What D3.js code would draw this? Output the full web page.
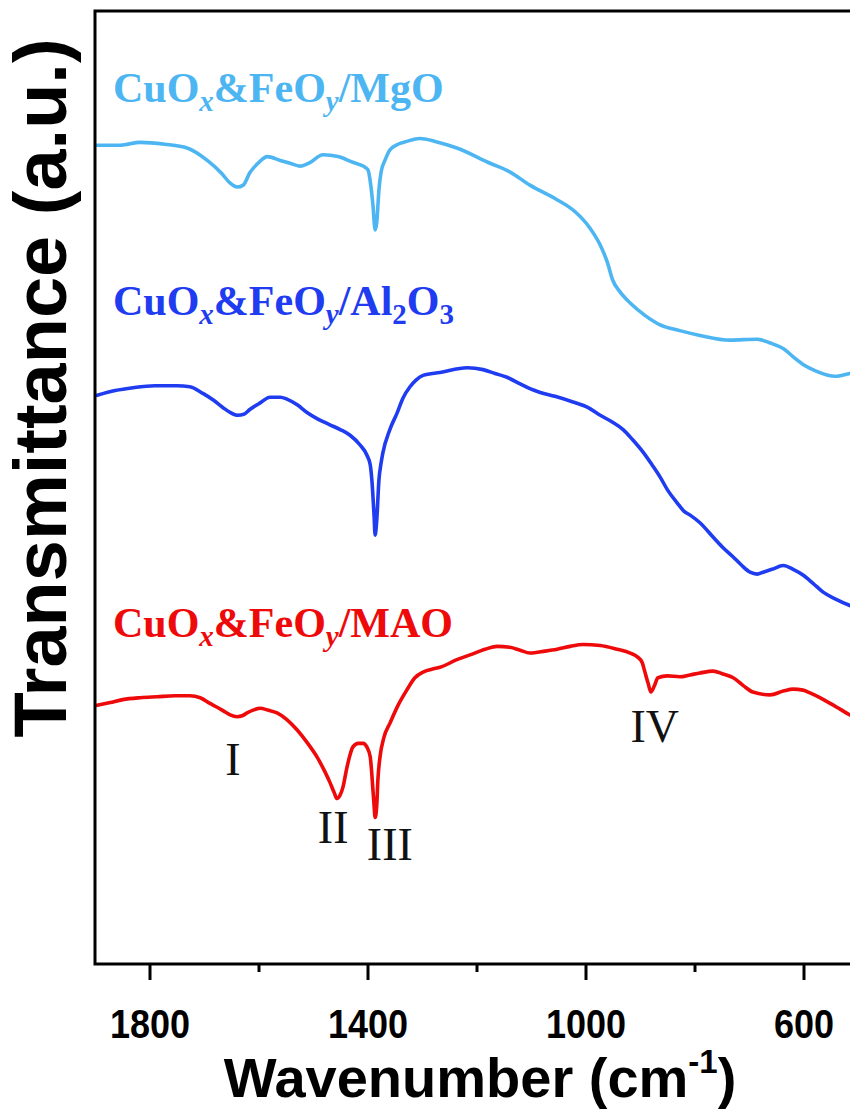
<!DOCTYPE html>
<html><head><meta charset="utf-8">
<script src="https://cdn.jsdelivr.net/npm/d3@7"></script>
<style>body{margin:0;background:#fff}</style>
</head><body><svg id="c" width="850" height="1111"></svg>
<script>
// ---- data (wavenumber cm-1, transmittance a.u.) ----
const mgoWn = [1896,1854,1817,1772,1731,1694,1667,1652,1639,1628,1616,1601,1584,1560,1542,1524,1505,1482,1454,1427,1408,1399,1394,1390,1386,1383,1379,1375,1368,1359,1344,1328,1304,1276,1236,1175,1139,1102,1056,1019,992,973,960,950,937,918,891,863,827,790,735,685,661,634,616,597,579,542,515,478];
const mgoT  = [86.1,86.1,86.4,86.2,85.8,84.5,83.1,82.1,81.7,81.9,83.2,84.2,84.9,84.5,84.2,83.9,84.3,85.1,84.9,84.3,83.9,83.5,81.9,79.8,77.2,78.0,81.4,83.3,84.5,85.6,86.2,86.5,86.8,86.5,85.8,84.2,83.3,81.9,80.5,79.1,77.4,75.6,73.8,71.9,70.7,69.5,68.2,67.2,66.6,66.1,65.6,65.7,65.3,64.6,63.7,62.9,62.4,61.8,62.1,62.4];

const al2o3Wn = [1896,1863,1830,1790,1750,1726,1702,1683,1665,1652,1638,1627,1616,1597,1579,1560,1548,1529,1511,1491,1469,1450,1432,1414,1401,1395,1392,1388,1386,1383,1379,1375,1372,1359,1346,1335,1322,1311,1298,1267,1217,1188,1166,1144,1120,1102,1083,1056,1023,995,973,951,931,913,894,878,863,849,832,819,808,790,766,748,729,713,698,685,674,658,637,619,601,582,564,542,515,478];
const al2o3T  = [59.8,60.3,60.6,60.8,60.8,60.7,60.0,59.3,58.5,58.0,57.7,57.8,58.3,59.0,59.6,59.6,59.4,58.8,58.0,57.3,56.7,56.2,55.6,54.6,53.5,52.5,50.9,47.2,45.1,46.7,50.9,52.7,53.7,56.2,57.9,59.5,60.7,61.4,61.9,62.2,62.7,62.5,62.1,61.7,61.0,60.5,60.1,59.7,59.1,58.5,57.7,57.0,56.2,55.1,53.8,52.5,51.2,49.8,48.5,47.6,47.2,46.4,44.9,43.8,42.8,41.9,41.2,41.0,41.2,41.5,41.9,41.5,40.9,40.0,39.1,38.4,37.7,37.0];

const maoWn = [1896,1872,1849,1817,1786,1753,1726,1707,1689,1676,1661,1652,1639,1630,1621,1610,1597,1583,1566,1548,1529,1511,1493,1478,1469,1461,1456,1450,1445,1438,1432,1427,1417,1408,1401,1395,1392,1388,1386,1383,1381,1377,1370,1359,1344,1328,1313,1298,1282,1267,1236,1212,1184,1162,1139,1120,1102,1074,1052,1028,1005,973,942,918,905,896,891,885,880,874,867,850,827,808,790,766,748,729,711,693,661,637,619,601,588,570,551,533,515,478];
const maoT  = [27.2,27.5,27.8,28.0,28.1,28.2,28.2,28.0,27.4,27.0,26.5,26.2,26.0,26.1,26.4,26.7,26.9,26.7,26.4,25.7,24.6,23.3,21.8,20.2,19.1,18.0,17.4,17.8,18.6,20.6,22.0,22.8,23.2,23.2,22.8,21.8,19.9,16.7,15.4,16.7,19.3,21.8,23.8,25.3,27.2,28.8,30.1,30.7,31.0,31.2,32.0,32.5,33.1,33.4,33.3,33.0,32.7,32.9,33.1,33.4,33.6,33.5,33.1,32.7,32.3,31.7,30.7,29.5,28.6,29.2,30.1,30.3,30.2,30.4,30.6,30.8,30.5,30.1,29.3,28.6,28.3,28.7,28.9,28.8,28.5,28.0,27.4,26.8,26.2,25.7];

const seriesNames = ["MgO","Al2O3","MAO"];
const seriesColors = ["#4db6f2","#1f3cf0","#ee0a0a"];
const labelPosWn = [1867,1867,1867];
const labelPosT  = [90.6,68.2,34.4];

const majorTicks = [1800,1400,1000,600];
const minorTicks = [1600,1200,800];

const peakLabels = ["I","II","III","IV"];
const peakWn = [1647,1463,1359,873];
const peakT  = [19.9,12.7,10.9,23.3];

// ---- layout ----
const svg = d3.select("#c");
const mLeft = 95, mTop = 11, mBottom = 964;
const x = d3.scaleLinear().domain([1900,400]).range([mLeft, mLeft + 1500*0.545]);
const y = d3.scaleLinear().domain([0,100]).range([mBottom, 13]);

svg.append("defs").append("clipPath").attr("id","clip")
  .append("rect").attr("x",mLeft).attr("y",mTop).attr("width",x(400)-mLeft).attr("height",mBottom-mTop);

const line = d3.line().x(d=>x(d[0])).y(d=>y(d[1])).curve(d3.curveMonotoneX);
const series = [
  d3.zip(mgoWn, mgoT),
  d3.zip(al2o3Wn, al2o3T),
  d3.zip(maoWn, maoT)
];
const plot = svg.append("g").attr("clip-path","url(#clip)");
series.forEach((s,i)=>{
  plot.append("path").datum(s).attr("d",line)
    .attr("fill","none").attr("stroke",seriesColors[i]).attr("stroke-width",3.6)
    .attr("stroke-linejoin","round").attr("stroke-linecap","round");
});

// frame
svg.append("rect").attr("x",mLeft).attr("y",mTop).attr("width",x(400)-mLeft).attr("height",mBottom-mTop)
  .attr("fill","none").attr("stroke","#000").attr("stroke-width",3);

// axes
const ax = svg.append("g").attr("transform",`translate(0,${mBottom})`)
  .call(d3.axisBottom(x).tickValues(majorTicks).tickSize(16).tickPadding(14).tickFormat(d3.format("d")));
ax.select(".domain").remove();
ax.selectAll("line").attr("stroke-width",3);
ax.selectAll("text").attr("font-family","Liberation Sans, Arial, sans-serif")
  .attr("font-weight","bold").attr("font-size",36).attr("fill","#000")
  .attr("y",0).attr("dy",null).attr("transform","translate(0,74) scale(1,1.15)");
const axm = svg.append("g").attr("transform",`translate(0,${mBottom})`)
  .call(d3.axisBottom(x).tickValues(minorTicks).tickSize(8).tickFormat(""));
axm.select(".domain").remove();
axm.selectAll("line").attr("stroke-width",3);

// axis titles
const xt = svg.append("text").attr("x",480).attr("y",1097).attr("text-anchor","middle")
  .attr("font-family","Liberation Sans, Arial, sans-serif").attr("font-weight","bold").attr("font-size",56);
xt.append("tspan").text("Wavenumber (cm");
xt.append("tspan").attr("font-size",33).attr("dy",-24).text("-1");
xt.append("tspan").attr("dy",24).text(")");

svg.append("text").attr("transform","translate(66,388) rotate(-90)").attr("text-anchor","middle")
  .attr("font-family","Liberation Sans, Arial, sans-serif").attr("font-weight","bold").attr("font-size",74)
  .text("Transmittance (a.u.)");

// series labels
function label(i, parts){
  const t = svg.append("text").attr("x",x(labelPosWn[i])).attr("y",y(labelPosT[i]))
    .attr("font-family","Liberation Serif, Times New Roman, serif").attr("font-weight","bold")
    .attr("font-size",42).attr("fill",seriesColors[i]);
  let shift = 0;
  parts.forEach(p=>{
    const sp = t.append("tspan").text(p.t);
    const target = p.sub ? 9 : 0;
    sp.attr("dy", target - shift); shift = target;
    if(p.sub) sp.attr("font-size",29);
    if(p.it) sp.attr("font-style","italic");
  });
}
label(0,[{t:"CuO"},{t:"x",sub:1,it:1},{t:"&FeO"},{t:"y",sub:1,it:1},{t:"/MgO"}]);
label(1,[{t:"CuO"},{t:"x",sub:1,it:1},{t:"&FeO"},{t:"y",sub:1,it:1},{t:"/Al"},{t:"2",sub:1},{t:"O"},{t:"3",sub:1}]);
label(2,[{t:"CuO"},{t:"x",sub:1,it:1},{t:"&FeO"},{t:"y",sub:1,it:1},{t:"/MAO"}]);

// peak labels
svg.selectAll(".pk").data(peakLabels).enter().append("text").attr("class","pk")
  .attr("x",(d,i)=>x(peakWn[i])).attr("y",(d,i)=>y(peakT[i])).attr("text-anchor","middle")
  .attr("font-family","Liberation Serif, Times New Roman, serif").attr("font-size",46).attr("fill","#111")
  .text(d=>d);
</script></body></html>
